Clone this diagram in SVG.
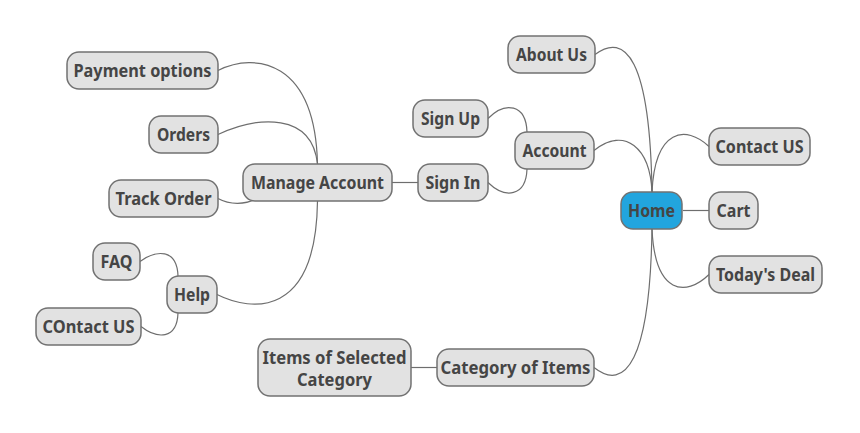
<svg xmlns="http://www.w3.org/2000/svg" width="860" height="433" viewBox="0 0 860 433">
<style>
.n rect{fill:#E2E2E2;stroke:#727272;stroke-width:1.5}
.n.root rect{fill:#22A5DE}
.n text{font-family:"Noto Sans","Open Sans","DejaVu Sans",sans-serif;font-weight:bold;font-size:18px;fill:#454545;text-anchor:middle}
#connectors path{fill:none;stroke:#6E6E6E;stroke-width:1.2}
</style>
<rect width="860" height="433" fill="#FFFFFF"/>
<g id="connectors">
<path d="M595,54.5 C625,32 650,58 652,192"/>
<path d="M594,150.5 C625,126 650,148 652,192"/>
<path d="M594,367.5 C625,392 650,362 652,229"/>
<path d="M709,146.5 C686,125 655,128 652,192"/>
<path d="M683,210.5 L709,210.5"/>
<path d="M652,229 C655,295 686,297 709,274.5"/>
<path d="M488,118.5 C505,101 526,104 527,132"/>
<path d="M488,182.5 C505,199 526,197 527,169"/>
<path d="M392,182.5 L418,182.5"/>
<path d="M218,70.5 C255,52 315,60 317.5,164"/>
<path d="M218,134.5 C258,116 312,112 317.5,164"/>
<path d="M218,198.5 C230,205 245,205 258,198"/>
<path d="M217,294.5 C252,312 316,318 317.5,201"/>
<path d="M140,261.5 C156,250 177,248 178,276"/>
<path d="M141,326.5 C157,339 177,340 178,313"/>
<path d="M411,367.5 L437,367.5"/>
</g>
<g id="home" class="n root"><rect x="621" y="192" width="61" height="37" rx="12"/><text x="651.5" y="216.5" textLength="47" lengthAdjust="spacingAndGlyphs">Home</text></g>
<g id="cart" class="n"><rect x="709" y="192" width="49" height="37" rx="12"/><text x="733.5" y="216.5" textLength="34" lengthAdjust="spacingAndGlyphs">Cart</text></g>
<g id="contact-us" class="n"><rect x="709" y="128" width="101" height="37" rx="12"/><text x="759.5" y="152.5" textLength="88" lengthAdjust="spacingAndGlyphs">Contact US</text></g>
<g id="todays-deal" class="n"><rect x="709" y="256" width="113" height="37" rx="12"/><text x="765.5" y="280.5" textLength="99" lengthAdjust="spacingAndGlyphs">Today's Deal</text></g>
<g id="about-us" class="n"><rect x="508" y="36" width="87" height="37" rx="12"/><text x="551.5" y="60.5" textLength="71" lengthAdjust="spacingAndGlyphs">About Us</text></g>
<g id="account" class="n"><rect x="515" y="132" width="79" height="37" rx="12"/><text x="554.5" y="156.5" textLength="64" lengthAdjust="spacingAndGlyphs">Account</text></g>
<g id="sign-up" class="n"><rect x="413" y="100" width="75" height="37" rx="12"/><text x="450.5" y="124.5" textLength="59" lengthAdjust="spacingAndGlyphs">Sign Up</text></g>
<g id="sign-in" class="n"><rect x="418" y="164" width="70" height="37" rx="12"/><text x="453" y="188.5" textLength="55" lengthAdjust="spacingAndGlyphs">Sign In</text></g>
<g id="manage-account" class="n"><rect x="243" y="164" width="149" height="37" rx="12"/><text x="317.5" y="188.5" textLength="133" lengthAdjust="spacingAndGlyphs">Manage Account</text></g>
<g id="payment-options" class="n"><rect x="67" y="52" width="151" height="37" rx="12"/><text x="142.5" y="76.5" textLength="138" lengthAdjust="spacingAndGlyphs">Payment options</text></g>
<g id="orders" class="n"><rect x="149" y="116" width="69" height="37" rx="12"/><text x="183.5" y="140.5" textLength="53" lengthAdjust="spacingAndGlyphs">Orders</text></g>
<g id="track-order" class="n"><rect x="109" y="180" width="109" height="37" rx="12"/><text x="163.5" y="204.5" textLength="96" lengthAdjust="spacingAndGlyphs">Track Order</text></g>
<g id="help" class="n"><rect x="167" y="276" width="50" height="37" rx="12"/><text x="192" y="300.5" textLength="36" lengthAdjust="spacingAndGlyphs">Help</text></g>
<g id="faq" class="n"><rect x="93" y="243" width="47" height="37" rx="12"/><text x="116.5" y="267.5" textLength="32" lengthAdjust="spacingAndGlyphs">FAQ</text></g>
<g id="contact-us-2" class="n"><rect x="36" y="308" width="105" height="37" rx="12"/><text x="88.5" y="332.5" textLength="92" lengthAdjust="spacingAndGlyphs">COntact US</text></g>
<g id="category-of-items" class="n"><rect x="437" y="349" width="157" height="37" rx="12"/><text x="515.5" y="373.5" textLength="150" lengthAdjust="spacingAndGlyphs">Category of Items</text></g>
<g id="items-of-selected-category" class="n"><rect x="258" y="339" width="153" height="57" rx="12"/><text x="334.5" y="363.5" textLength="144" lengthAdjust="spacingAndGlyphs">Items of Selected</text><text x="334.5" y="386" textLength="75" lengthAdjust="spacingAndGlyphs">Category</text></g>
</svg>
